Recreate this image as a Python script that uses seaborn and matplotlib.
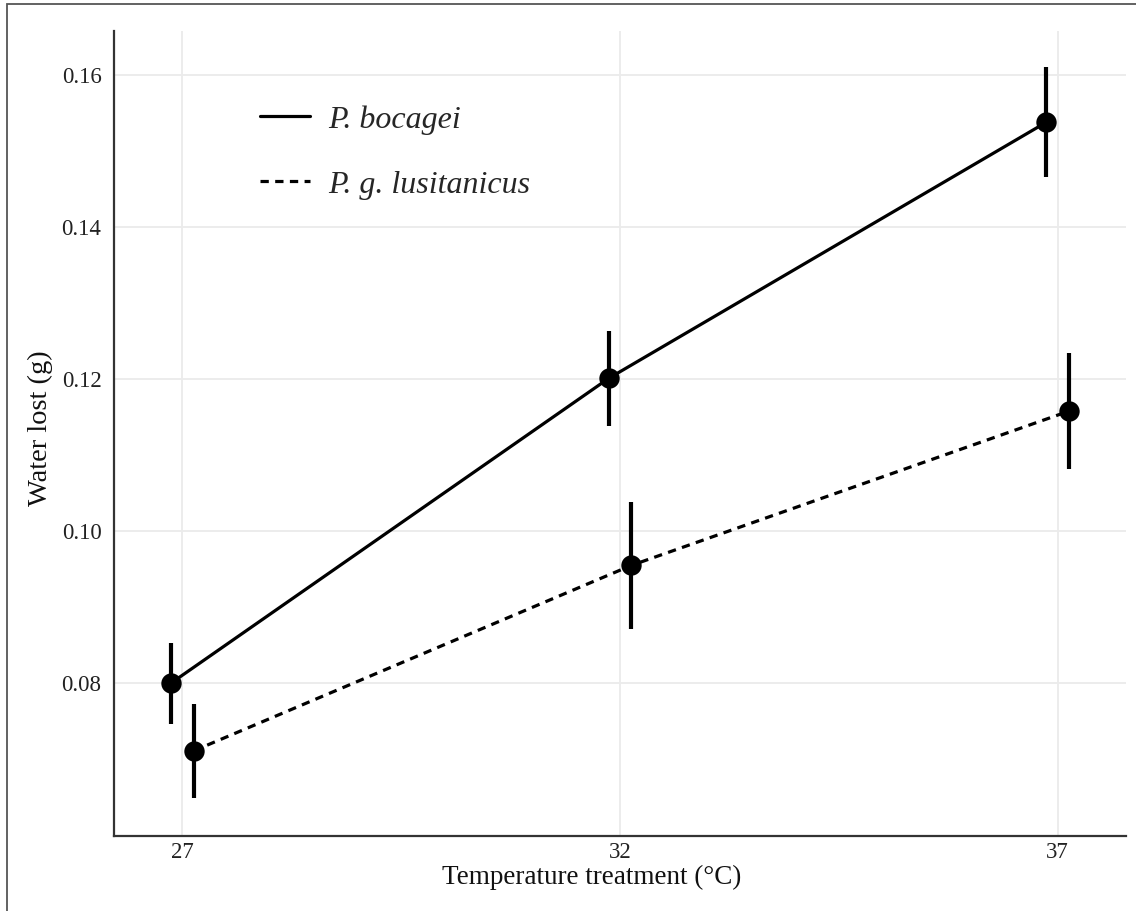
import matplotlib
matplotlib.use("Agg")
import matplotlib.pyplot as plt
import matplotlib.patches as mpatches
from matplotlib.lines import Line2D
import numpy as np
import pandas as pd
import seaborn as sns

# Temperature treatments and species
temperatures = [27, 32, 37]
species = ["P. bocagei", "P. g. lusitanicus"]

# Mean water lost (g) with lower/upper interval bounds
bocagei_mean = [0.0800, 0.1201, 0.1538]
bocagei_low = [0.0746, 0.1138, 0.1466]
bocagei_high = [0.0853, 0.1263, 0.1611]

lusitanicus_mean = [0.0711, 0.0955, 0.1158]
lusitanicus_low = [0.0649, 0.0871, 0.1082]
lusitanicus_high = [0.0772, 0.1038, 0.1234]

dodge = 0.13

df = pd.DataFrame({
    "temp": temperatures * 2,
    "species": [species[0]] * 3 + [species[1]] * 3,
    "mean": bocagei_mean + lusitanicus_mean,
    "low": bocagei_low + lusitanicus_low,
    "high": bocagei_high + lusitanicus_high,
})
df["x"] = df["temp"] + np.where(df["species"] == species[0], -dodge, dodge)

sns.set_theme(style="whitegrid")
plt.rcParams["font.family"] = ["Liberation Serif", "DejaVu Serif"]

fig = plt.figure(figsize=(11.36, 9.11), dpi=100)
ax = fig.add_axes([114 / 1136, 1 - 836 / 911, (1126 - 114) / 1136, (836 - 31) / 911])

sns.lineplot(
    data=df, x="x", y="mean", style="species",
    dashes={species[0]: "", species[1]: (2.6, 2.0)},
    color="black", linewidth=2.3, legend=False, ax=ax, sort=True,
)
ax.vlines(df["x"], df["low"], df["high"], color="black", linewidth=3.0, zorder=3)
ax.scatter(df["x"], df["mean"], s=215, color="black", zorder=4, linewidths=0)

ax.set_xlim(26.22, 37.78)
ax.set_ylim(0.0599, 0.1658)
ax.set_xticks(temperatures)
ax.set_xticklabels([str(t) for t in temperatures])
ax.set_yticks([0.08, 0.10, 0.12, 0.14, 0.16])
ax.set_yticklabels(["0.08", "0.10", "0.12", "0.14", "0.16"])

ax.grid(True, color="#ebebeb", linewidth=1.3)
ax.set_facecolor("white")
for side in ["top", "right"]:
    ax.spines[side].set_visible(False)
for side in ["left", "bottom"]:
    ax.spines[side].set_visible(True)
    ax.spines[side].set_color("#333333")
    ax.spines[side].set_linewidth(1.6)

ax.tick_params(axis="both", length=0, labelsize=16.5, colors="#222222")
ax.tick_params(axis="y", pad=9)
ax.tick_params(axis="x", pad=4.5)

ax.set_xlabel("Temperature treatment (°C)", fontsize=19.5, color="#111111")
ax.set_ylabel("Water lost (g)", fontsize=20.5, color="#111111")
ax.xaxis.set_label_coords((592 - 114) / (1126 - 114), -0.0355)
ax.yaxis.set_label_coords(-(114 - 53) / (1126 - 114), (836 - 428) / (836 - 31))

handles = [
    Line2D([0], [0], color="black", linewidth=2.3),
    Line2D([0], [0], color="black", linewidth=2.3, dashes=(2.6, 2.0)),
]
leg = ax.legend(
    handles, species, loc="upper left",
    bbox_to_anchor=((260 - 114) / (1126 - 114), 1 - (105 - 31) / (836 - 31)),
    frameon=False, handlelength=1.56, handletextpad=0.56, labelspacing=1.12,
    prop={"family": "Liberation Serif", "style": "italic", "size": 23},
    borderaxespad=0, borderpad=0,
)

# Figure border
fig.patches.append(mpatches.Rectangle(
    (7 / 1136, -0.1), 1.2, 1 - 4 / 911 + 0.1, transform=fig.transFigure,
    fill=False, edgecolor="#555555", linewidth=1.3, zorder=10))

fig.savefig("out.png", dpi=100, facecolor="white")
